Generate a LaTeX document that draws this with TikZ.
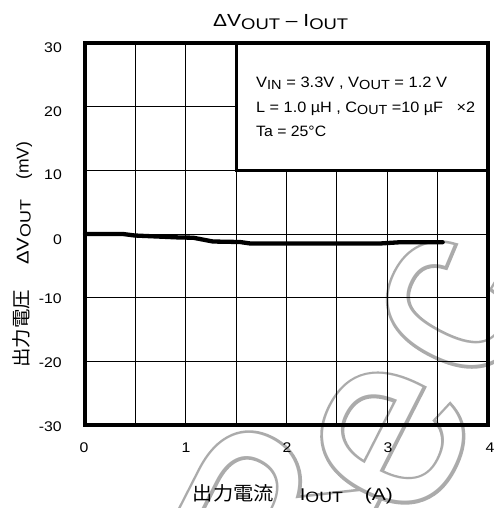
\documentclass[tikz,border=0pt]{standalone}
\usepackage{graphicx}
\usepackage{fontspec}
\setmainfont{Liberation Sans}
\newfontfamily\cjk{Noto Sans CJK JP}
\newfontfamily\wmfont[FakeBold=2.5]{Liberation Sans}
\newcommand\lsub[1]{\raisebox{-0.12em}{\scalebox{0.88}{#1}}}
\newcommand\fs[1]{\fontsize{#1}{#1}\selectfont}
\begin{document}
\begin{tikzpicture}[x=1pt,y=-1pt,
  frameln/.style={line width=3.2pt},
  gridln/.style={line width=0.9pt},
  curveln/.style={line width=4.3pt, line cap=round, line join=round},
  ytick/.style={anchor=east, inner sep=0pt, font=\fs{14}},
  xtick/.style={anchor=center, inner sep=0pt, font=\fs{14}},
  leg/.style={anchor=base west, inner sep=0pt, font=\fs{15}},
  wm/.style={inner sep=0pt, rotate=63, anchor=center, font=\fs{250}},
  wmout/.style={wm, text=black!33},
  wmin/.style={wm, text=white}
]
\useasboundingbox (0,0) rectangle (493,508);
\fill[white] (0,0) rectangle (493,508);
% watermark (outlined letters)
\node[wmout] (wmR1) at (272,520) {\wmfont R};
\node[wmin]  (wmR2) at (272,520) {R};
\node[wmout] (wmE1) at (392,438) {\wmfont e};
\node[wmin]  (wmE2) at (392,438) {e};
\node[wmout] (wmC1) at (455,308) {\wmfont c};
\node[wmin]  (wmC2) at (455,308) {c};
% plot
\begin{scope}[shift={(85,234)}, x=100.75pt, y=6.367pt]
  \draw[gridln] (0,-30) grid[xstep=0.5, ystep=10] (4,30);
  \filldraw[frameln, fill=white] (1.5,10) rectangle (4,30);
  \draw[curveln] plot coordinates {(0,0) (0.377,0) (0.496,-0.24) (0.943,-0.55) (1.072,-0.58) (1.27,-1.18) (1.54,-1.26) (1.64,-1.49) (2.93,-1.49) (3.13,-1.29) (3.55,-1.29)};
  \draw[frameln] (0,-30) rectangle (4,30);
\end{scope}
% y ticks
\node[ytick] (y30) at (62,48) {\scalebox{1.13}[1]{30}};
\node[ytick] (y20) at (62,112) {\scalebox{1.13}[1]{20}};
\node[ytick] (y10) at (62,175) {\scalebox{1.13}[1]{10}};
\node[ytick] (y0) at (62,240) {\scalebox{1.13}[1]{0}};
\node[ytick] (ym10) at (62,299) {\scalebox{1.13}[1]{-10}};
\node[ytick] (ym20) at (62,363) {\scalebox{1.13}[1]{-20}};
\node[ytick] (ym30) at (62,427) {\scalebox{1.13}[1]{-30}};
% x ticks
\node[xtick] (x0) at (84,448) {\scalebox{1.13}[1]{0}};
\node[xtick] (x1) at (186,448) {\scalebox{1.13}[1]{1}};
\node[xtick] (x2) at (287,448) {\scalebox{1.13}[1]{2}};
\node[xtick] (x3) at (388,448) {\scalebox{1.13}[1]{3}};
\node[xtick] (x4) at (490,448) {\scalebox{1.13}[1]{4}};
% title
\node[anchor=base west, inner sep=0pt] (title) at (213,27)
  {\resizebox{135pt}{\height}{\fs{17.5}ΔV\lsub{OUT} – I\lsub{OUT}}};
% legend
\node[leg] (l1) at (256,88) {\resizebox{191pt}{\height}{V\lsub{IN} = 3.3V , V\lsub{OUT} = 1.2 V}};
\node[leg] (l2) at (256,113) {\resizebox{219pt}{\height}{L = 1.0 µH , C\lsub{OUT} =10 µF \ \ ×2}};
\node[leg] (l3) at (256,136) {\resizebox{70pt}{\height}{Ta = 25°C}};
% axis labels
\node[anchor=base west, inner sep=0pt, font=\fs{17}] (xlab) at (192.7,500)
  {\resizebox{81pt}{\height}{\cjk\fs{19}出力電流}\hspace{26pt}\resizebox{43pt}{\height}{I\lsub{OUT}}\hspace{22pt}\resizebox{28pt}{\height}{(A)}};
\node[anchor=base west, inner sep=0pt, rotate=90, font=\fs{17}] (ylab) at (28.5,368)
  {\resizebox{78pt}{\height}{\cjk\fs{19}出力電圧}\hspace{25pt}\resizebox{65pt}{\height}{ΔV\lsub{OUT}}\hspace{20pt}\resizebox{38pt}{\height}{(mV)}};
\end{tikzpicture}
\end{document}
